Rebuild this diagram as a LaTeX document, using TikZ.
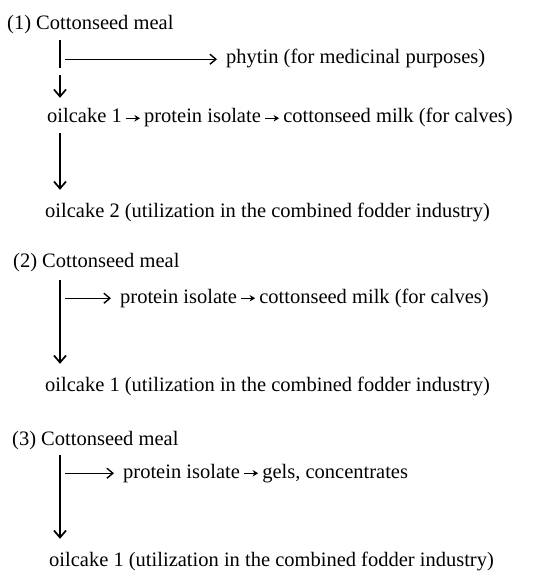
\documentclass[tikz,border=0pt]{standalone}
\usepackage{fontspec}
\setmainfont{Liberation Serif}
\usetikzlibrary{arrows.meta}
\usetikzlibrary{positioning}

\begin{document}
\begin{tikzpicture}
		[x=1pt, y=-1pt,
		item/.style={anchor=base west,inner sep=0pt,text height=14pt,text depth=4.5pt,font=\fontsize{20.5}{24}\selectfont},
		stem/.style={line width=1.7pt,line cap=butt},
		down/.style={line width=1.7pt,-{Straight Barb[length=7pt,width=12pt]},shorten <=5pt,shorten >=13pt},
		branch/.style={line width=1.4pt,-{Straight Barb[length=6pt,width=10pt]},shorten <=5pt,shorten >=9pt},
		link/.style={line width=1.2pt,-{Stealth[length=5.5pt,width=6.5pt]},shorten <=4pt,shorten >=4pt},
		node distance=22pt
		]
        \useasboundingbox (0,0) rectangle (555,572);

        \def \bx {60}

        % Scheme 1
        \node[item] (meal1) at (7,30) {(1) Cottonseed meal};
        \node[item] (phytin) at (226,64) {phytin (for medicinal purposes)};
        \node[item] (cake1) at (47,123) {oilcake 1};
        \node[item,base right=of cake1] (iso1) {protein isolate};
        \node[item,base right=of iso1] (milk1) {cottonseed milk (for calves)};
        \node[item] (cake2) at (45,217) {oilcake 2 (utilization in the combined fodder industry)};
        \coordinate (top1) at (\bx,30);
        \coordinate (bend1) at (\bx,68);
        \coordinate (low1) at (\bx,75);
        \draw[stem] (meal1.south -| top1) ++(0,5) -- (bend1);
        \draw[down,shorten <=0pt,shorten >=11pt] (low1) -- (cake1.north -| top1);
        \draw[branch] (phytin.west -| top1) -- (phytin.west);
        \draw[link] (cake1) -- (iso1);
        \draw[link] (iso1) -- (milk1);
        \draw[down] (cake1.south -| top1) -- (cake2.north -| top1);

        % Scheme 2
        \node[item] (meal2) at (13,267) {(2) Cottonseed meal};
        \node[item] (iso2) at (120,303) {protein isolate};
        \node[item,base right=of iso2] (milk2) {cottonseed milk (for calves)};
        \node[item] (cake3) at (45,391) {oilcake 1 (utilization in the combined fodder industry)};
        \coordinate (top2) at (\bx,267);
        \draw[down,shorten <=8pt] (meal2.south -| top2) -- (cake3.north -| top2);
        \draw[branch] (iso2.west -| top2) -- (iso2.west);
        \draw[link] (iso2) -- (milk2);

        % Scheme 3
        \node[item] (meal3) at (12,445) {(3) Cottonseed meal};
        \node[item] (iso3) at (123,478) {protein isolate};
        \node[item,base right=of iso3] (gels) {gels, concentrates};
        \node[item] (cake4) at (49,566) {oilcake 1 (utilization in the combined fodder industry)};
        \coordinate (top3) at (\bx,445);
        \draw[down] (meal3.south -| top3) -- (cake4.north -| top3);
        \draw[branch] (iso3.west -| top3) -- (iso3.west);
        \draw[link] (iso3) -- (gels);
\end{tikzpicture}
\end{document}
